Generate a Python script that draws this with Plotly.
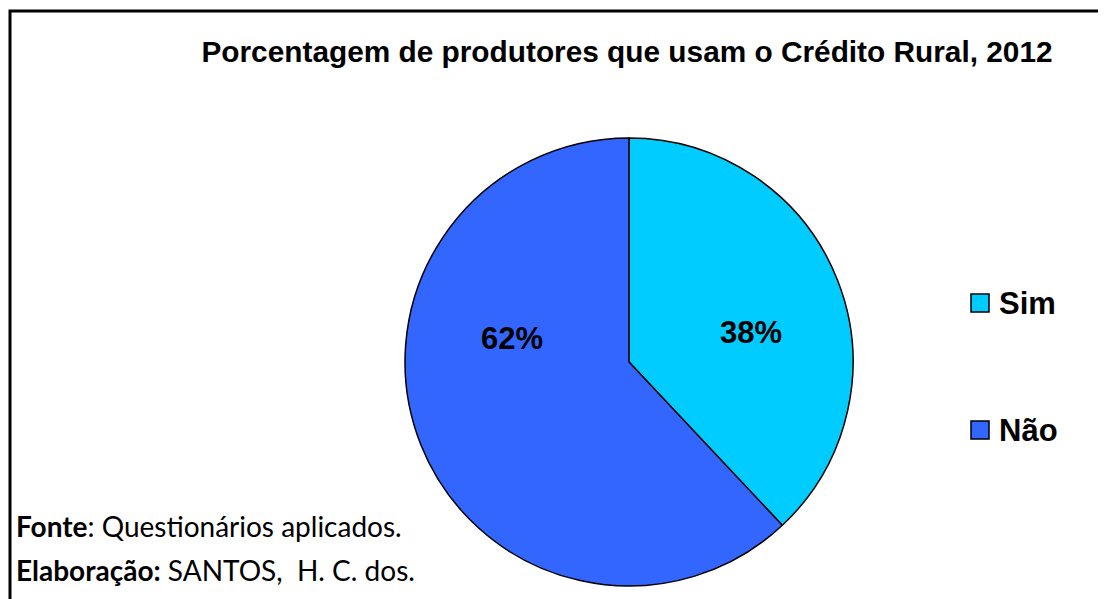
import plotly.graph_objects as go

# dados do gráfico
categorias = ['Sim', 'Não']
percentuais = [38, 62]
cores = ['#00CCFF', '#3366FF']
rotulos = ['38%', '62%']

# a página tem 8px de margem, então a figura fica um pouco menor
OFF = 8
W, H = 1106 - OFF, 599 - OFF


def px_x(x):
    return (x - OFF) / W


def px_y(y):
    return 1 - (y - OFF) / H


fig = go.Figure()

fig.add_trace(go.Pie(
    labels=categorias,
    values=percentuais,
    marker=dict(colors=cores, line=dict(color='black', width=1.5)),
    sort=False,
    direction='clockwise',
    rotation=0,
    textinfo='none',
    hoverinfo='label+percent',
    showlegend=False,
    domain=dict(x=[px_x(629 - 224), px_x(629 + 224)],
                y=[px_y(362 + 224), px_y(362 - 224)]),
))

# rótulos de porcentagem
posicoes_rotulos = [(751, 333), (512, 338)]
for txt, (x, y) in zip(rotulos, posicoes_rotulos):
    fig.add_annotation(x=px_x(x), y=px_y(y), xref='paper', yref='paper',
                       text='<b>' + txt + '</b>', showarrow=False,
                       font=dict(family='Liberation Sans', size=31, color='black'),
                       xanchor='center', yanchor='middle')

# legenda manual
legenda_y = [303, 430]
for cat, cor, y in zip(categorias, cores, legenda_y):
    fig.add_shape(type='rect', xref='paper', yref='paper',
                  x0=px_x(971), x1=px_x(989), y0=px_y(y + 9), y1=px_y(y - 9),
                  fillcolor=cor, line=dict(color='black', width=1.5))
    fig.add_annotation(x=px_x(997), y=px_y(y), xref='paper', yref='paper',
                       text='<b>' + cat + '</b>', showarrow=False,
                       font=dict(family='Liberation Sans', size=31, color='black'),
                       xanchor='left', yanchor='middle')

# fonte e elaboração
fig.add_annotation(x=px_x(14), y=px_y(526), xref='paper', yref='paper',
                   text='<b>Fonte</b>: Questionários aplicados.', showarrow=False,
                   font=dict(family='Lato', size=28, color='black'),
                   xanchor='left', yanchor='middle')
fig.add_annotation(x=px_x(14), y=px_y(570), xref='paper', yref='paper',
                   text='<b>Elaboração:</b> SANTOS,  H. C. dos.', showarrow=False,
                   font=dict(family='Lato', size=28, color='black'),
                   xanchor='left', yanchor='middle')

# moldura
fig.add_shape(type='rect', xref='paper', yref='paper',
              x0=px_x(10), x1=px_x(1130), y0=px_y(630), y1=px_y(11),
              line=dict(color='black', width=3), fillcolor='rgba(0,0,0,0)')

fig.update_layout(
    title=dict(text='<b>Porcentagem de produtores que usam o Crédito Rural, 2012</b>',
               x=px_x(627), xanchor='center', y=px_y(52), yanchor='middle',
               font=dict(family='Liberation Sans', size=29.8, color='black')),
    width=W, height=H,
    margin=dict(l=0, r=0, t=0, b=0),
    paper_bgcolor='white',
    plot_bgcolor='white',
)

fig.write_html("out.html")
